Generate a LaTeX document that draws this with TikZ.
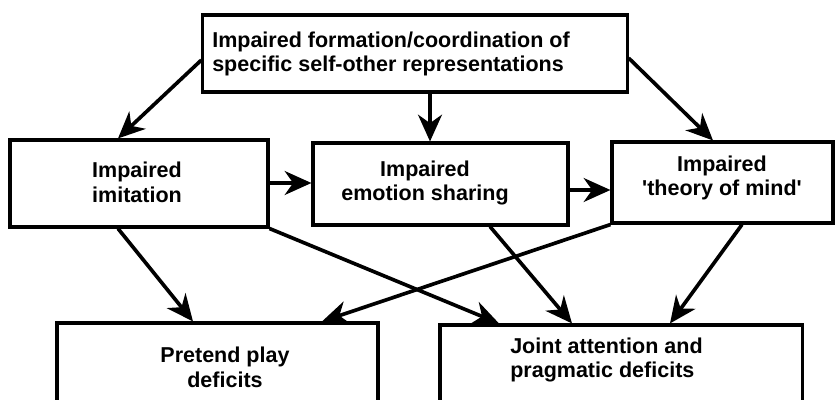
\documentclass[tikz,border=0pt]{standalone}
\usepackage{fontspec}
\setmainfont{Liberation Sans}
\usetikzlibrary{arrows.meta}
\begin{document}
\begin{tikzpicture}[x=0.025cm,y=-0.025cm,
  box/.style={draw=black,line width=2.2pt,inner sep=0pt,fill=white},
  txt/.style={inner sep=0pt,font=\fontsize{15.3}{17.5}\selectfont\bfseries},
  arr/.style={line width=2.6pt,-{Stealth[length=19pt,width=17pt,inset=6pt]}}]
\useasboundingbox (0,0) rectangle (836,400);
\clip (0,0) rectangle (836,400);
% boxes
\node[box,minimum width=10.6cm,minimum height=1.925cm] (top) at (415,53.5) {};
\node[box,minimum width=6.45cm,minimum height=2.175cm] (imit) at (139,183.5) {};
\node[box,minimum width=6.375cm,minimum height=2.05cm] (emot) at (440.5,184) {};
\node[box,minimum width=5.525cm,minimum height=2.025cm] (tom) at (722.5,182.5) {};
\node[box,minimum width=8.025cm,minimum height=3cm] (pret) at (217.5,383) {};
\node[box,minimum width=9.05cm,minimum height=3cm] (joint) at (621,385) {};
% texts
\node[txt,anchor=west,align=left] (ttop) at (212,54) {Impaired formation/coordination of\\specific self-other representations};
\node[txt,align=center] (timit) at (137,182.5) {Impaired\\imitation};
\node[txt,align=center] (temot) at (425,183) {Impaired\\emotion sharing};
\node[txt,align=center] (ttom) at (722,178) {Impaired\\\textquotesingle theory of mind\textquotesingle};
\node[txt,align=center] (tpret) at (225,367.5) {Pretend play\\deficits};
\node[txt,anchor=west,align=left] (tjoint) at (510,360) {Joint attention and\\pragmatic deficits};
% connectors
\draw[arr] (top.west |- 0,60) -- (118,0 |- imit.north);
\draw[arr] (430,0 |- top.south) -- (430,0 |- emot.north);
\draw[arr] (top.east |- 0,58) -- (713,0 |- tom.north);
\draw[arr] (imit.east |- 0,183) -- (emot.west |- 0,183);
\draw[arr] (emot.east |- 0,190) -- (tom.west |- 0,190);
\draw[arr] (118,0 |- imit.south) -- (193,0 |- pret.north);
\draw[arr] (imit.south east) -- (499,0 |- joint.north);
\draw[arr] (490,0 |- emot.south) -- (572,0 |- joint.north);
\draw[arr] (tom.south west) -- (322,0 |- pret.north);
\draw[arr] (742,0 |- tom.south) -- (670,0 |- joint.north);
\end{tikzpicture}
\end{document}
